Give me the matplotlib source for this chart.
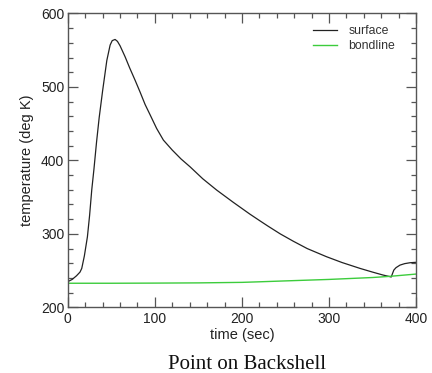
import matplotlib
matplotlib.use("Agg")
import matplotlib.pyplot as plt
from matplotlib.ticker import MultipleLocator

surface_t = [0, 5, 10, 14, 16, 19, 22.5, 25, 27.5, 30, 33, 36, 40, 44.8, 48.6, 51, 54.3, 57, 60,
             65.8, 71, 77.3, 83, 88.8, 94.7, 102, 109.8, 120, 130, 140.4, 155, 171, 190,
             209, 221, 230, 244, 259, 275, 297, 315, 335.7, 350, 362, 370, 371.5,
             373, 374.5, 377, 381.6, 387, 393, 400]
surface_T = [235, 238, 243, 248, 253, 270, 296, 325, 360, 388, 425, 458, 495, 536, 557, 563, 564.6, 562, 556,
             541, 526, 509, 493, 476, 461.6, 443.5, 427.6, 414, 402, 391.3, 375, 359.6, 343,
             327, 317.5, 310.5, 300, 290, 280, 269, 261, 253, 248, 244, 241.8, 241.3,
             246, 250.7, 254, 257.5, 259.5, 260.7, 261.3]
bond_t = [0, 50, 100, 150, 200, 220.8, 250, 300, 350, 370, 400]
bond_T = [232.8, 232.8, 233.0, 233.3, 234.0, 234.8, 236.0, 238.0, 240.6, 242.2, 245.3]

plt.rcParams['font.family'] = ['Liberation Sans', 'DejaVu Sans']
fig = plt.figure(figsize=(4.32, 3.73), dpi=100)
ax = fig.add_axes([0.157, 0.176, 0.806, 0.788])
ax.plot(surface_t, surface_T, color='#222222', lw=0.9, label='surface')
ax.plot(bond_t, bond_T, color='#3ccc3c', lw=1.0, label='bondline')
ax.set_xlim(0, 400)
ax.set_ylim(200, 600)
ax.xaxis.set_major_locator(MultipleLocator(100))
ax.xaxis.set_minor_locator(MultipleLocator(20))
ax.yaxis.set_major_locator(MultipleLocator(100))
ax.yaxis.set_minor_locator(MultipleLocator(20))
ax.tick_params(which='both', direction='in', top=True, right=True, color='#555555', labelsize=10,
               labelcolor='#222222')
ax.tick_params(axis='x', pad=3.5)
ax.tick_params(axis='y', pad=2.5)
ax.tick_params(which='major', length=7, width=0.9)
ax.tick_params(which='minor', length=3.5, width=0.9)
for s in ax.spines.values():
    s.set_color('#555555')
    s.set_linewidth(1.0)
ax.set_xlabel('time (sec)', fontsize=10.5, labelpad=1.5, color='#222222')
ax.set_ylabel('temperature (deg K)', fontsize=10.5, labelpad=5, color='#222222')
leg = ax.legend(loc='upper left', bbox_to_anchor=(0.704, 0.96), frameon=False, fontsize=8.8,
                handlelength=2.0, borderaxespad=0, borderpad=0, labelspacing=0.25,
                handletextpad=0.9)
for t in leg.get_texts():
    t.set_color('#333333')
fig.text(0.572, 0.022, 'Point on Backshell', family='Liberation Serif', fontsize=15,
         ha='center', va='center', color='#111111')
fig.savefig('out.png', dpi=100)
